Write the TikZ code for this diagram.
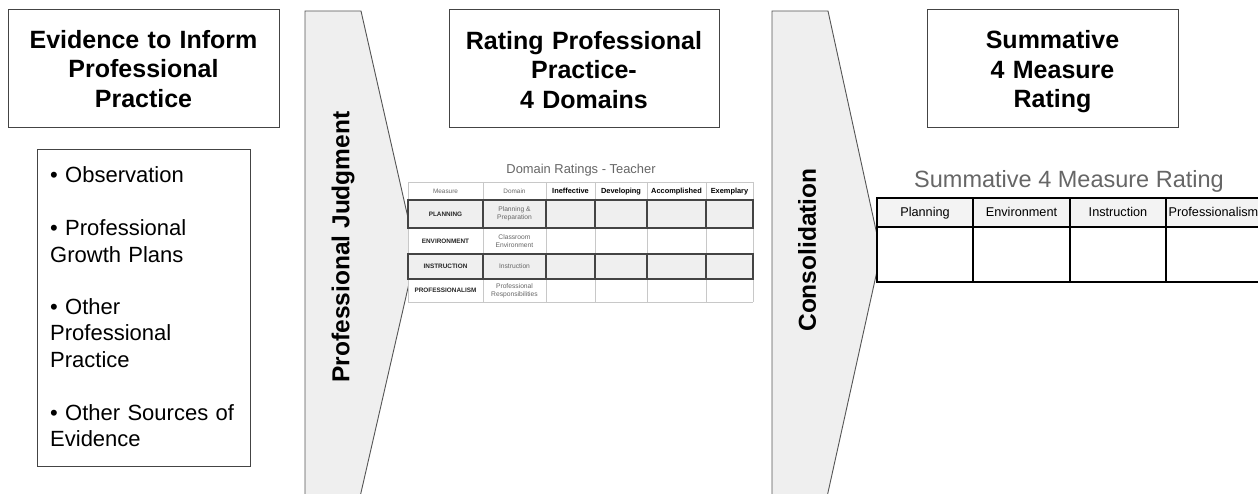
\documentclass[tikz,border=0pt]{standalone}
\usepackage{fontspec}
\setmainfont{Liberation Sans}
\definecolor{chevfill}{HTML}{EFEFEF}
\definecolor{chevline}{HTML}{555555}
\definecolor{boxline}{HTML}{444444}
\definecolor{gridlight}{HTML}{C8C8C8}
\definecolor{rowfill}{HTML}{EFEFEF}
\definecolor{hdrfill}{HTML}{F3F3F3}
\definecolor{graytext}{HTML}{666666}
\tikzset{
  titlebox/.style={draw=boxline, line width=1pt, fill=white, inner sep=0pt},
  titletext/.style={anchor=base, text width=265pt, align=center, inner sep=0pt,
    font=\fontsize{25}{29.5}\selectfont\bfseries},
  chevron/.style={draw=chevline, line width=0.9pt, fill=chevfill},
  chevtext/.style={rotate=90, font=\fontsize{24.5}{28}\selectfont\bfseries},
  listitem/.style={anchor=base west, text width=195pt, align=left, inner sep=0pt,
    font=\fontsize{22}{26.5}\selectfont},
  hdrsmall/.style={anchor=base, font=\fontsize{6.4}{8}\selectfont, text=graytext, inner sep=0pt},
  hdrbold/.style={anchor=base, font=\fontsize{7.4}{9}\selectfont\bfseries, inner sep=0pt},
  rowlabel/.style={anchor=base, font=\fontsize{6.4}{8}\selectfont\bfseries, text=black!85, inner sep=0pt},
  domtext/.style={font=\fontsize{6.7}{8.2}\selectfont, text=graytext, inner sep=0pt, align=center},
  sumhdr/.style={anchor=base, font=\fontsize{12.7}{15}\selectfont, inner sep=0pt},
  darkcell/.style={draw=boxline, line width=1.2pt},
  lightgrid/.style={draw=gridlight, line width=0.6pt},
  sumgrid/.style={draw=black, line width=1.4pt}
}
\begin{document}
\begin{tikzpicture}[x=1pt,y=-1pt]
\useasboundingbox (0,0) rectangle (1258,494);
\clip (0,0) rectangle (1258,494);
\fill[white] (0,0) rectangle (1258,494);

% chevrons
\draw[chevron] (305,11) -- (361,11) -- (416,253) -- (360,497) -- (305,497) -- cycle;
\node[chevtext] (pj) at (343,247) {Professional Judgment};
\draw[chevron] (772,11) -- (828,11) -- (881,253) -- (827,497) -- (772,497) -- cycle;
\node[chevtext] (cons) at (807,250) {Consolidation};

% title boxes
\node[titlebox, minimum width=271pt, minimum height=118pt] (ev) at (143.5,69) {};
\node[titletext] (evt) at (143.5,48.5) {Evidence to Inform\\Professional\\Practice};
\node[titlebox, minimum width=270pt, minimum height=118pt] (rp) at (584,69) {};
\node[titletext] (rpt) at (584,49.5) {Rating Professional\\Practice-\\4 Domains};
\node[titlebox, minimum width=251pt, minimum height=118pt] (sm) at (1052.5,69) {};
\node[titletext] (smt) at (1052.5,49) {Summative\\4 Measure\\Rating};

% evidence list
\node[draw=boxline, line width=1pt, minimum width=213pt, minimum height=316pt, inner sep=0pt] (list) at (143.5,308) {};
\node[listitem] (i1) at (50,183) {• Observation};
\node[listitem] (i2) at (50,236) {• Professional\\Growth Plans};
\node[listitem] (i3) at (50,314) {• Other\\Professional\\Practice};
\node[listitem] (i4) at (50,420) {• Other Sources of\\Evidence};

% domain ratings table
\node[font=\fontsize{12.9}{15}\selectfont, text=graytext, anchor=base, inner sep=0pt] (dtitle) at (581,173.5) {Domain Ratings - Teacher};
\fill[white] (408,182) rectangle (753,302);
\fill[rowfill] (408,200) rectangle (753,228);
\fill[rowfill] (408,254) rectangle (753,279);
\foreach \yy in {182,200,228,254,279,302} {\draw[lightgrid] (408,\yy) -- (753,\yy);}
\foreach \xx in {408,483,546,595,647,706,753} {\draw[lightgrid] (\xx,182) -- (\xx,302);}
\foreach \a/\b in {408/483,483/546,546/595,595/647,647/706,706/753} {
  \draw[darkcell] (\a,200) rectangle (\b,228);
  \draw[darkcell] (\a,254) rectangle (\b,279);
}
\node[hdrsmall] (hm) at (445.5,193.3) {Measure};
\node[hdrsmall] (hd) at (514.5,193.3) {Domain};
\node[hdrbold] (h1) at (570.5,193.7) {Ineffective};
\node[hdrbold] (h2) at (621,193.7) {Developing};
\node[hdrbold] (h3) at (676.5,193.7) {Accomplished};
\node[hdrbold] (h4) at (729.5,193.7) {Exemplary};
\node[rowlabel] (r1) at (445.5,216.3) {PLANNING};
\node[domtext] (d1) at (514.5,214) {Planning \&\\Preparation};
\node[rowlabel] (r2) at (445.5,243.3) {ENVIRONMENT};
\node[domtext] (d2) at (514.5,241) {Classroom\\Environment};
\node[rowlabel] (r3) at (445.5,268.8) {INSTRUCTION};
\node[domtext, anchor=base] (d3) at (514.5,268.9) {Instruction};
\node[rowlabel] (r4) at (445.5,292.8) {PROFESSIONALISM};
\node[domtext] (d4) at (514.5,290.5) {Professional\\Responsibilities};

% summative table
\node[font=\fontsize{23.5}{27}\selectfont, text=graytext, anchor=base, inner sep=0pt] (stitle) at (1069,188) {Summative 4 Measure Rating};
\fill[white] (877,198) rectangle (1262,282);
\fill[hdrfill] (877,198) rectangle (1262,227);
\draw[sumgrid] (877,198) rectangle (1262,282);
\draw[sumgrid] (877,227) -- (1262,227);
\foreach \xx in {973,1070,1166} {\draw[sumgrid] (\xx,198) -- (\xx,282);}
\node[sumhdr] (s1) at (925,217) {Planning};
\node[sumhdr] (s2) at (1021.5,217) {Environment};
\node[sumhdr] (s3) at (1118,217) {Instruction};
\node[sumhdr] (s4) at (1213.5,217) {Professionalism};
\end{tikzpicture}
\end{document}
